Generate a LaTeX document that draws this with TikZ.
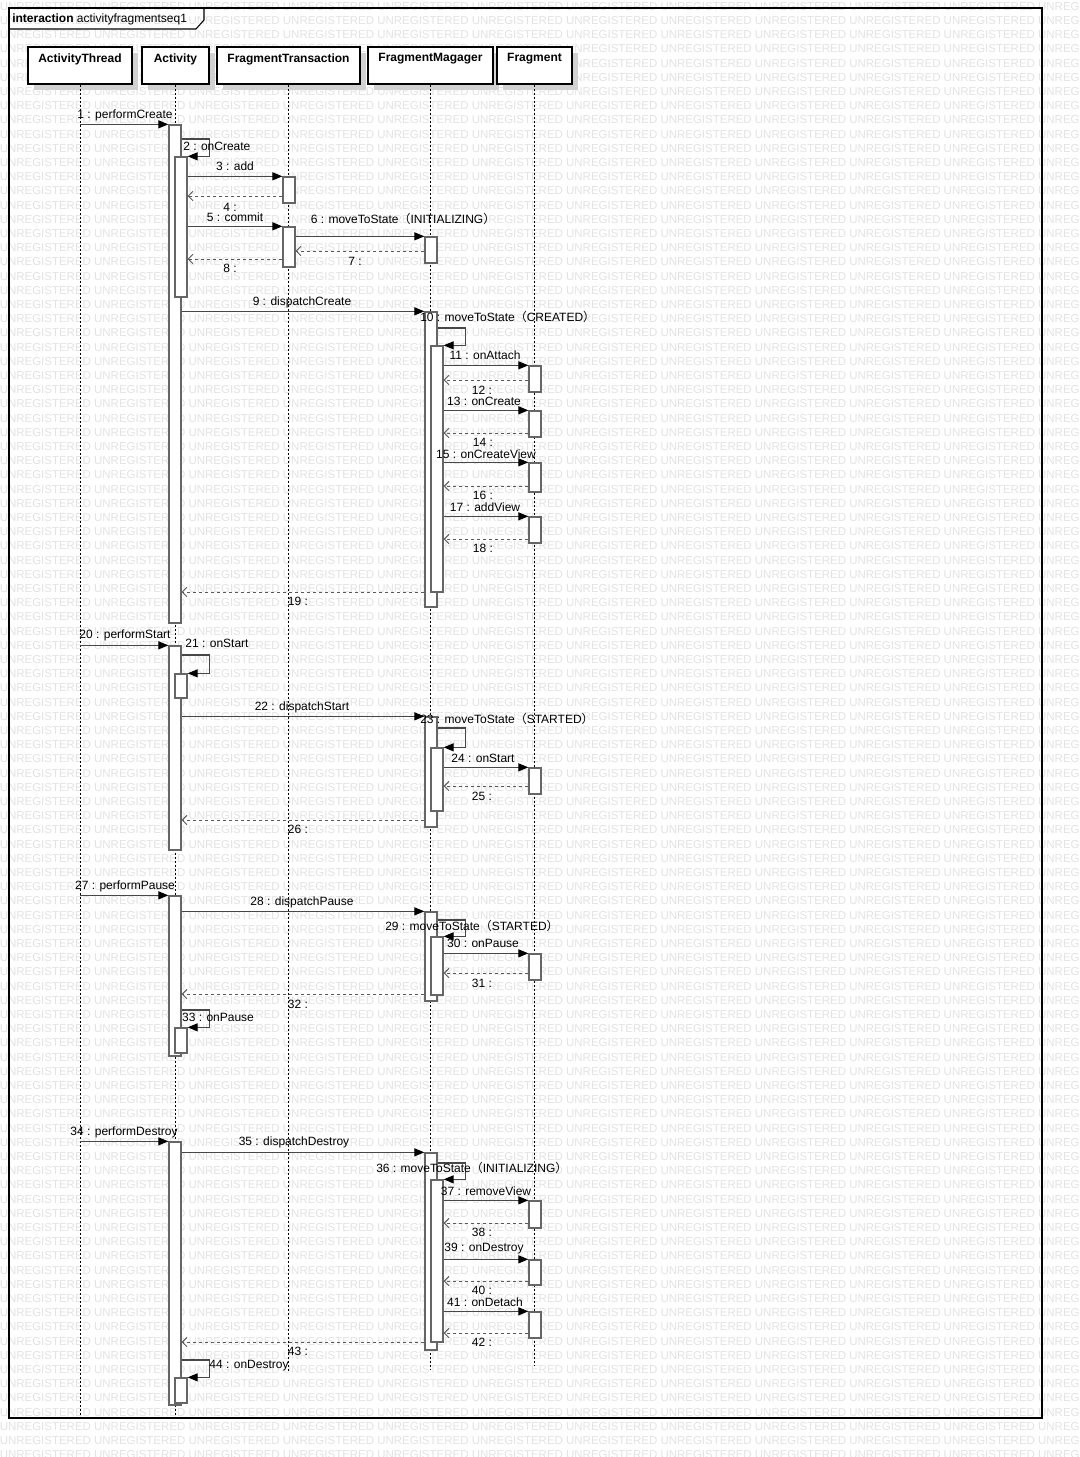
\documentclass[tikz,border=0pt]{standalone}
\usepackage{fontspec}
\setmainfont{Liberation Sans}
\newfontfamily\cjkfont{Noto Sans CJK SC}
\usetikzlibrary{arrows.meta,fit}
\newcommand\fwlp{{\cjkfont （}}
\newcommand\fwrp{{\cjkfont ）}}
\newcommand\wmrow{UNREGISTERED UNREGISTERED UNREGISTERED UNREGISTERED UNREGISTERED UNREGISTERED UNREGISTERED UNREGISTERED UNREGISTERED UNREGISTERED UNREGISTERED UNREGISTERED}
\begin{document}
\begin{tikzpicture}[x=0.75pt,y=-0.75pt,font=\fontsize{9pt}{11pt}\selectfont,
  wm/.style={text=black!11,font=\fontsize{8.61pt}{10pt}\selectfont,inner sep=0pt,anchor=west},
  framebox/.style={draw=black,line width=0.8pt,inner sep=0pt},
  headbox/.style={draw=black,line width=0.8pt,fill=white,inner sep=0pt},
  headshadow/.style={fill=black!18,inner sep=0pt},
  headtext/.style={inner sep=0pt,font=\fontsize{9pt}{11pt}\selectfont\bfseries},
  life/.style={draw=black,line width=0.6pt,dash pattern=on 1.5pt off 1.5pt},
  act/.style={draw=black!60,line width=1pt,fill=white,inner sep=0pt},
  msg/.style={draw=black!72,line width=0.9pt,-{Triangle[length=7.5pt,width=6pt,color=black]}},
  ret/.style={draw=black!65,line width=0.7pt,dash pattern=on 2.5pt off 2pt,-{Straight Barb[length=3.5pt,width=7pt]}},
  lbl/.style={inner sep=0pt}]
\useasboundingbox (0,0) rectangle (1080,1457);
\clip (0,0) rectangle (1080,1457);
\fill[white] (0,0) rectangle (1080,1457);
% watermark
\foreach \k in {0,...,102}{
  \node[wm] (wm\k) at (-0.5,6.3+14.2*\k) {\wmrow};
}
% frame
\node[framebox,fit={(9,8) (1042,1418)}] (frame) {};
\draw[line width=0.8pt] (frame.north west |- 0,29) -- (196,29) -- (204,20) -- (frame.north west -| 204,0);
\node[lbl,anchor=west] (title) at (12,19) {\textbf{interaction} activityfragmentseq1};
% lifeline heads
\foreach \n/\a/\b in {sAT/28/132,sA/142/209,sFT/217/360,sFM/368/493,sF/497/572}{
  \node[headshadow,fit={(\a+6,53) (\b+6,90)}] (\n) {};
}
\node[headbox,fit={(28,47) (132,84)}] (hAT) {};
\node[headbox,fit={(142,47) (209,84)}] (hA) {};
\node[headbox,fit={(217,47) (360,84)}] (hFT) {};
\node[headbox,fit={(368,47) (493,84)}] (hFM) {};
\node[headbox,fit={(497,47) (572,84)}] (hF) {};
\node[headtext] (tAT) at (80,59) {ActivityThread};
\node[headtext] (tA) at (175.5,59) {Activity};
\node[headtext] (tFT) at (288.5,59) {FragmentTransaction};
\node[headtext] (tFM) at (430.5,59) {FragmentMagager};
\node[headtext] (tF) at (534.5,59) {Fragment};
% lifelines
\draw[life] (hAT.south) -- (hAT.south |- 0,1418);
\draw[life] (hA.south) -- (hA.south |- 0,1418);
\draw[life] (hFT.south) -- (hFT.south |- 0,1372);
\draw[life] (hFM.south) -- (hFM.south |- 0,1370);
\draw[life] (hF.south) -- (hF.south |- 0,1365);
% activations
\node[act,fit={(169,125) (181,623)}] (A1) {};
\node[act,fit={(175,157) (187,297)}] (A2) {};
\node[act,fit={(283,177) (295,203)}] (T1) {};
\node[act,fit={(283,227) (295,267)}] (T2) {};
\node[act,fit={(425,237) (437,263)}] (M1) {};
\node[act,fit={(425,312) (437,607)}] (M2) {};
\node[act,fit={(431,346) (443,592)}] (M3) {};
\node[act,fit={(529,366) (541,392)}] (F1) {};
\node[act,fit={(529,411) (541,437)}] (F2) {};
\node[act,fit={(529,463) (541,492)}] (F3) {};
\node[act,fit={(529,517) (541,543)}] (F4) {};
\node[act,fit={(169,646) (181,850)}] (A3) {};
\node[act,fit={(175,674) (187,698)}] (A4) {};
\node[act,fit={(425,717) (437,827)}] (M4) {};
\node[act,fit={(431,748) (443,811)}] (M5) {};
\node[act,fit={(529,768) (541,794)}] (F5) {};
\node[act,fit={(169,896) (181,1056)}] (A5) {};
\node[act,fit={(425,912) (437,1001)}] (M6) {};
\node[act,fit={(431,937) (443,995)}] (M7) {};
\node[act,fit={(529,954) (541,980)}] (F6) {};
\node[act,fit={(175,1028) (187,1053)}] (A6) {};
\node[act,fit={(169,1142) (181,1405)}] (A7) {};
\node[act,fit={(425,1153) (437,1350)}] (M8) {};
\node[act,fit={(431,1180) (443,1342)}] (M9) {};
\node[act,fit={(529,1201) (541,1228)}] (F7) {};
\node[act,fit={(529,1260) (541,1285)}] (F8) {};
\node[act,fit={(529,1312) (541,1338)}] (F9) {};
\node[act,fit={(175,1378) (187,1403)}] (A8) {};
% messages: create
\draw[msg] (hAT.south |- A1.north) -- (A1.north west);
\draw[msg] (A1.east |- 0,139) -- ++(28,0) |- (A2.north east);
\draw[msg] (A2.east |- T1.north) -- (T1.north west);
\draw[ret] (T1.west |- 0,196) -- (A2.east |- 0,196);
\draw[msg] (A2.east |- T2.north) -- (T2.north west);
\draw[msg] (T2.east |- M1.north) -- (M1.north west);
\draw[ret] (M1.west |- 0,251) -- (T2.east |- 0,251);
\draw[ret] (T2.west |- 0,259) -- (A2.east |- 0,259);
\draw[msg] (A1.east |- M2.north) -- (M2.north west);
\draw[msg] (M2.east |- 0,328) -- ++(28,0) |- (M3.north east);
\draw[msg] (M3.east |- F1.north) -- (F1.north west);
\draw[ret] (F1.west |- 0,380) -- (M3.east |- 0,380);
\draw[msg] (M3.east |- F2.north) -- (F2.north west);
\draw[ret] (F2.west |- 0,433) -- (M3.east |- 0,433);
\draw[msg] (M3.east |- F3.north) -- (F3.north west);
\draw[ret] (F3.west |- 0,486) -- (M3.east |- 0,486);
\draw[msg] (M3.east |- F4.north) -- (F4.north west);
\draw[ret] (F4.west |- 0,539) -- (M3.east |- 0,539);
\draw[ret] (M2.west |- 0,592) -- (A1.east |- 0,592);
% start
\draw[msg] (hAT.south |- A3.north) -- (A3.north west);
\draw[msg] (A3.east |- 0,655) -- ++(28,0) |- (A4.north east);
\draw[msg] (A3.east |- M4.north) -- (M4.north west);
\draw[msg] (M4.east |- 0,728) -- ++(28,0) |- (M5.north east);
\draw[msg] (M5.east |- F5.north) -- (F5.north west);
\draw[ret] (F5.west |- 0,786) -- (M5.east |- 0,786);
\draw[ret] (M4.west |- 0,820) -- (A3.east |- 0,820);
% pause
\draw[msg] (hAT.south |- A5.north) -- (A5.north west);
\draw[msg] (A5.east |- M6.north) -- (M6.north west);
\draw[msg] (M6.east |- 0,920) -- ++(28,0) |- (M7.north east);
\draw[msg] (M7.east |- F6.north) -- (F6.north west);
\draw[ret] (F6.west |- 0,973) -- (M7.east |- 0,973);
\draw[ret] (M6.west |- 0,994) -- (A5.east |- 0,994);
\draw[msg] (A5.east |- 0,1010) -- ++(28,0) |- (A6.north east);
% destroy
\draw[msg] (hAT.south |- A7.north) -- (A7.north west);
\draw[msg] (A7.east |- M8.north) -- (M8.north west);
\draw[msg] (M8.east |- 0,1163) -- ++(28,0) |- (M9.north east);
\draw[msg] (M9.east |- F7.north) -- (F7.north west);
\draw[ret] (F7.west |- 0,1223) -- (M9.east |- 0,1223);
\draw[msg] (M9.east |- F8.north) -- (F8.north west);
\draw[ret] (F8.west |- 0,1281) -- (M9.east |- 0,1281);
\draw[msg] (M9.east |- F9.north) -- (F9.north west);
\draw[ret] (F9.west |- 0,1333) -- (M9.east |- 0,1333);
\draw[ret] (M8.west |- 0,1342) -- (A7.east |- 0,1342);
\draw[msg] (A7.east |- 0,1360) -- ++(28,0) |- (A8.north east);
% labels
\node[lbl] (l1) at (125,115) {1 : performCreate};
\node[lbl,anchor=west] (l2) at (183,146) {2 : onCreate};
\node[lbl] (l3) at (235,166) {3 : add};
\node[lbl] (l4) at (230,207) {4 :};
\node[lbl] (l5) at (235,217) {5 : commit};
\node[lbl] (l6) at (403,219) {6 : moveToState\fwlp INITIALIZING\fwrp};
\node[lbl] (l7) at (355,261) {7 :};
\node[lbl] (l8) at (230,268) {8 :};
\node[lbl] (l9) at (302,302) {9 : dispatchCreate};
\node[lbl,anchor=west] (l10) at (420,317) {10 : moveToState\fwlp CREATED\fwrp};
\node[lbl] (l11) at (485,355) {11 : onAttach};
\node[lbl] (l12) at (482,390) {12 :};
\node[lbl] (l13) at (484,401) {13 : onCreate};
\node[lbl] (l14) at (483,442) {14 :};
\node[lbl] (l15) at (486,454) {15 : onCreateView};
\node[lbl] (l16) at (483,495) {16 :};
\node[lbl] (l17) at (485,507) {17 : addView};
\node[lbl] (l18) at (483,548) {18 :};
\node[lbl] (l19) at (298,601) {19 :};
\node[lbl] (l20) at (125,635) {20 : performStart};
\node[lbl] (l21) at (217,643) {21 : onStart};
\node[lbl] (l22) at (302,707) {22 : dispatchStart};
\node[lbl,anchor=west] (l23) at (420,719) {23 : moveToState\fwlp STARTED\fwrp};
\node[lbl] (l24) at (483,758) {24 : onStart};
\node[lbl] (l25) at (482,796) {25 :};
\node[lbl] (l26) at (298,829) {26 :};
\node[lbl] (l27) at (125,886) {27 : performPause};
\node[lbl] (l28) at (302,902) {28 : dispatchPause};
\node[lbl,anchor=west] (l29) at (385,926) {29 : moveToState\fwlp STARTED\fwrp};
\node[lbl] (l30) at (483,943) {30 : onPause};
\node[lbl] (l31) at (482,983) {31 :};
\node[lbl] (l32) at (298,1004) {32 :};
\node[lbl] (l33) at (218,1017) {33 : onPause};
\node[lbl] (l34) at (124,1132) {34 : performDestroy};
\node[lbl] (l35) at (294,1142) {35 : dispatchDestroy};
\node[lbl,anchor=west] (l36) at (376,1168) {36 : moveToState\fwlp INITIALIZING\fwrp};
\node[lbl] (l37) at (486,1191) {37 : removeView};
\node[lbl] (l38) at (482,1232) {38 :};
\node[lbl] (l39) at (484,1249) {39 : onDestroy};
\node[lbl] (l40) at (482,1290) {40 :};
\node[lbl] (l41) at (485,1302) {41 : onDetach};
\node[lbl] (l42) at (482,1342) {42 :};
\node[lbl] (l43) at (298,1351) {43 :};
\node[lbl] (l44) at (249,1366) {44 : onDestroy};
\end{tikzpicture}
\end{document}
